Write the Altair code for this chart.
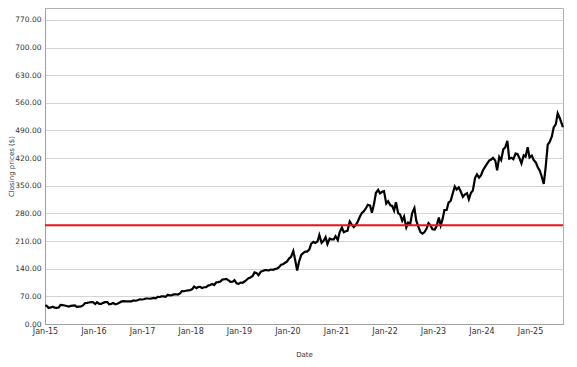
import altair as alt
import pandas as pd

# semi-monthly closing prices (mid-month, end of month)
p2015 = [46.0, 40.4, 42.0, 43.9, 41.4, 40.7, 41.6, 48.6, 48.0, 46.9, 45.5, 44.2,
         45.9, 46.7, 47.0, 43.5, 44.0, 44.3, 47.0, 52.6, 53.5, 54.4, 55.2, 55.5]
p2016 = [50.5, 55.1, 51.0, 50.9, 53.5, 55.2, 55.4, 49.9, 51.0, 53.0, 49.8, 51.2,
         53.7, 56.7, 58.0, 57.5, 57.2, 57.6, 57.4, 59.9, 58.9, 60.3, 62.6, 62.1]
p2017 = [62.7, 64.6, 64.5, 64.0, 64.7, 65.9, 65.0, 68.5, 68.4, 69.8, 70.0, 68.9,
         73.9, 72.7, 73.2, 74.8, 75.3, 74.5, 77.6, 83.2, 82.9, 84.2, 85.2, 85.5]
p2018 = [88.4, 95.0, 90.8, 93.8, 94.2, 91.3, 93.1, 93.5, 97.2, 98.8, 101.4, 98.6,
         105.4, 106.1, 107.7, 112.3, 113.4, 114.4, 110.7, 106.8, 106.9, 110.9, 103.0, 101.6]
p2019 = [105.0, 104.4, 108.2, 112.0, 115.9, 117.9, 121.8, 130.6, 128.9, 123.7, 132.5, 134.0,
         136.3, 136.3, 135.5, 137.9, 137.3, 139.0, 140.4, 143.4, 149.9, 151.4, 155.0, 157.7]
p2020 = [166.2, 170.2, 184.7, 162.0, 135.4, 157.7, 175.1, 179.2, 183.2, 183.3, 188.9, 203.5,
         208.0, 205.0, 208.9, 225.5, 205.4, 210.3, 219.7, 202.5, 216.5, 214.1, 214.1, 222.4]
p2021 = [212.7, 232.0, 244.2, 232.4, 234.8, 235.8, 259.5, 252.2, 245.2, 249.7, 259.4, 270.9,
         281.0, 284.9, 293.0, 301.9, 299.9, 281.9, 304.2, 331.6, 339.5, 330.6, 334.7, 336.3]
p2022 = [304.8, 311.0, 300.5, 298.8, 287.2, 308.3, 280.5, 277.5, 261.5, 271.9, 244.5, 256.8,
         254.1, 280.7, 293.5, 261.5, 245.4, 232.9, 228.6, 232.1, 241.6, 255.1, 249.0, 239.8]
p2023 = [239.2, 247.8, 269.3, 249.4, 265.4, 288.3, 288.8, 307.3, 311.7, 328.4, 348.1, 340.5,
         345.7, 335.9, 321.9, 327.8, 331.2, 315.8, 332.4, 338.1, 370.0, 378.9, 370.7, 376.0]
p2024 = [390.3, 397.6, 406.6, 413.6, 416.4, 420.7, 413.6, 389.3, 423.1, 415.1, 442.6, 447.0,
         463.6, 418.4, 421.0, 417.1, 431.3, 430.3, 419.1, 406.4, 426.9, 423.5, 447.3, 421.5]
p2025 = [426.3, 415.1, 408.4, 397.0, 388.6, 375.4, 354.6, 395.3, 454.3, 460.4, 475.0, 497.4,
         505.8, 533.5, 520.2, 506.7]
series = {2015: p2015, 2016: p2016, 2017: p2017, 2018: p2018, 2019: p2019, 2020: p2020,
          2021: p2021, 2022: p2022, 2023: p2023, 2024: p2024, 2025: p2025}
first_point = ("2015-01-02", 46.8)
last_point = ("2025-09-05", 498.0)
threshold = [250]
y_ticks = [0, 70, 140, 210, 280, 350, 420, 490, 560, 630, 700, 770]
x_years = list(range(2015, 2026))

rows = [{"Date": first_point[0], "Close": first_point[1]}]
for yr, vals in series.items():
    for i, v in enumerate(vals):
        m = i // 2 + 1
        d = 14 if i % 2 == 0 else 28
        rows.append({"Date": f"{yr}-{m:02d}-{d:02d}", "Close": v})
rows.append({"Date": last_point[0], "Close": last_point[1]})
df = pd.DataFrame(rows)
df_t = pd.DataFrame({"Close": threshold})

x_scale = alt.Scale(domain=[alt.DateTime(year=2015, month=1, date=1),
                            alt.DateTime(year=2025, month=9, date=6)])
y_scale = alt.Scale(domain=[0, 800], nice=False)

y_axis = alt.Axis(values=y_ticks, format=".2f", ticks=False, labelPadding=4,
                  labelOverlap=False, labelFontSize=7.5, titleFontSize=7,
                  titleFontWeight="normal", titleX=-34, titleY=158,
                  titleBaseline="middle", titleAngle=-90, gridColor="#d4d4d4")
x_axis = alt.Axis(values=[alt.DateTime(year=y, month=1, date=1) for y in x_years],
                  format="%b-%y", formatType="time", grid=False, ticks=False,
                  labelFlush=False, labelOverlap=False, labelPadding=3,
                  labelFontSize=8, titleFontSize=7, titleFontWeight="normal",
                  titleY=30, titleBaseline="middle")

line = alt.Chart(df).mark_line(color="black", strokeWidth=2.2).encode(
    x=alt.X("Date:T", scale=x_scale, title="Date", axis=x_axis),
    y=alt.Y("Close:Q", scale=y_scale, title="Closing prices ($)", axis=y_axis),
)

rule = alt.Chart(df_t).mark_rule(color="#e8141a", strokeWidth=2).encode(
    y=alt.Y("Close:Q", scale=y_scale, title="Closing prices ($)", axis=y_axis)
)

chart = alt.layer(line, rule).properties(
    width=518, height=316,
    autosize=alt.AutoSizeParams(type="none"),
    padding={"left": 37, "top": 0, "right": 6, "bottom": 35},
).configure(font="DejaVu Sans").configure_view(
    stroke="#b0b0b0", strokeWidth=1
).configure_axis(
    domainColor="#a0a0a0", labelColor="#333333", titleColor="#333333"
)

chart.save("out.html", embed_options={"renderer": "svg", "actions": False})
